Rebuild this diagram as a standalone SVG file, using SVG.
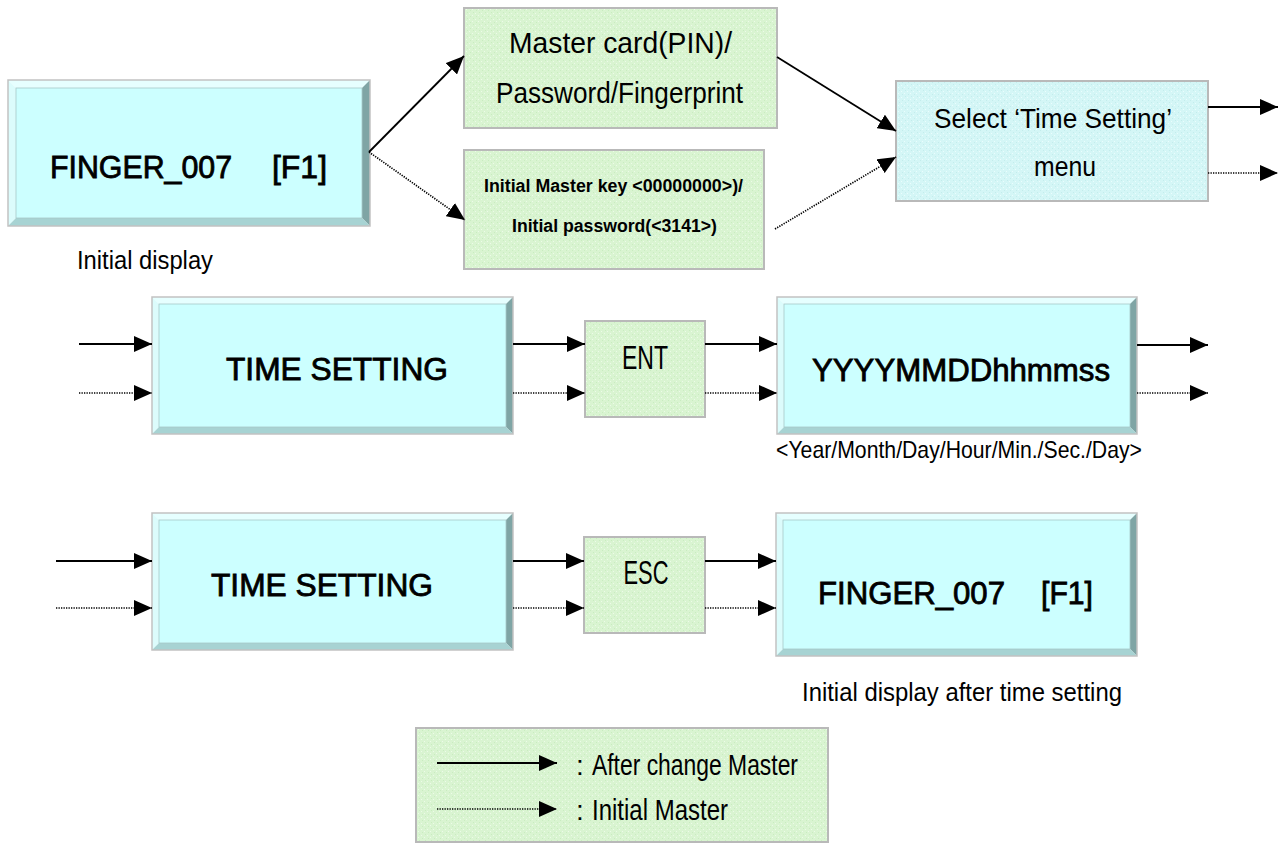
<svg xmlns="http://www.w3.org/2000/svg" width="1280" height="848" viewBox="0 0 1280 848">
<style>
.bv-o{fill:none;stroke:#c2c2c2;stroke-width:1.5}
.bv-t{fill:#e6ffff}
.bv-l{fill:#dcfcfc}
.bv-r{fill:#7fa5a5}
.bv-b{fill:#a7d3d3}
.bv-f{fill:#ccffff;stroke:#a8c8c8;stroke-width:0.8}
.gbox{fill:url(#gtex);stroke:#b9b9b9;stroke-width:2}
.cbox{fill:url(#ctex);stroke:#b9b9b9;stroke-width:2}
.big{font-family:"Liberation Sans",Arial,sans-serif;font-size:31px;fill:#000;stroke:#000;stroke-width:0.8}
.nar{font-family:"Liberation Sans Narrow","Liberation Sans",Arial,sans-serif;fill:#000}
.solid{stroke:#000;stroke-width:1.8;fill:none}
.dot{stroke:#000;stroke-width:1.7;stroke-dasharray:1.3 1.2;fill:none}
</style>
<defs>
<pattern id="gtex" width="6" height="6" patternUnits="userSpaceOnUse">
<rect width="6" height="6" fill="#d9f4d1"/>
<rect x="1" y="1" width="1" height="1" fill="#ecfbe8"/>
<rect x="4" y="3" width="1" height="1" fill="#ecfbe8"/>
<rect x="2" y="4" width="1" height="1" fill="#c9ecc0"/>
<rect x="5" y="0" width="1" height="1" fill="#c9ecc0"/>
</pattern>
<pattern id="ctex" width="6" height="6" patternUnits="userSpaceOnUse">
<rect width="6" height="6" fill="#d4f6f6"/>
<rect x="1" y="1" width="1" height="1" fill="#eafdfd"/>
<rect x="4" y="3" width="1" height="1" fill="#eafdfd"/>
<rect x="2" y="4" width="1" height="1" fill="#c3ecec"/>
<rect x="5" y="0" width="1" height="1" fill="#c3ecec"/>
</pattern>
<marker id="ah" markerUnits="userSpaceOnUse" viewBox="0 0 18 16" markerWidth="18" markerHeight="16" refX="18" refY="8" orient="auto">
<path d="M0,0 L18,8 L0,16 z" fill="#000"/>
</marker>
</defs>
<rect width="1280" height="848" fill="#fff"/>

<g id="node-initial">
<polygon class="bv-t" points="8,80 370,80 362,88 16,88"/>
<polygon class="bv-l" points="8,80 16,88 16,218 8,226"/>
<polygon class="bv-r" points="370,80 370,226 362,218 362,88"/>
<polygon class="bv-b" points="8,226 370,226 362,218 16,218"/>
<rect class="bv-f" x="16" y="88" width="346" height="130"/>
<rect class="bv-o" x="8" y="80" width="362" height="146"/>
<text class="big" y="178"><tspan x="50" textLength="182" lengthAdjust="spacingAndGlyphs">FINGER_007</tspan><tspan x="272" textLength="55" lengthAdjust="spacingAndGlyphs">[F1]</tspan></text>
<text class="nar" x="77" y="269" font-size="25" textLength="136" lengthAdjust="spacingAndGlyphs">Initial display</text>
</g>

<g id="node-master">
<rect class="gbox" x="464" y="8" width="313" height="120"/>
<text class="nar" x="509" y="53" font-size="29" textLength="223" lengthAdjust="spacingAndGlyphs">Master card(PIN)/</text>
<text class="nar" x="496" y="103" font-size="29" textLength="247" lengthAdjust="spacingAndGlyphs">Password/Fingerprint</text>
</g>

<g id="node-initial-master">
<rect class="gbox" x="464" y="150" width="300" height="119"/>
<text class="nar" x="484" y="192" font-size="18" font-weight="bold" textLength="259" lengthAdjust="spacingAndGlyphs">Initial Master key &lt;00000000&gt;)/</text>
<text class="nar" x="512" y="232" font-size="18" font-weight="bold" textLength="205" lengthAdjust="spacingAndGlyphs">Initial password(&lt;3141&gt;)</text>
</g>

<g id="node-select">
<rect class="cbox" x="896" y="81" width="312" height="120"/>
<text class="nar" x="934" y="128" font-size="28" textLength="238" lengthAdjust="spacingAndGlyphs">Select ‘Time Setting’</text>
<text class="nar" x="1065" y="176" font-size="28" text-anchor="middle" textLength="62" lengthAdjust="spacingAndGlyphs">menu</text>
</g>

<g id="node-time-setting-1">
<polygon class="bv-t" points="152,297 513,297 506,304 159,304"/>
<polygon class="bv-l" points="152,297 159,304 159,427 152,434"/>
<polygon class="bv-r" points="513,297 513,434 506,427 506,304"/>
<polygon class="bv-b" points="152,434 513,434 506,427 159,427"/>
<rect class="bv-f" x="159" y="304" width="347" height="123"/>
<rect class="bv-o" x="152" y="297" width="361" height="137"/>
<text class="big" x="226" y="380" textLength="222" lengthAdjust="spacingAndGlyphs">TIME SETTING</text>
</g>

<g id="node-ent">
<rect class="gbox" x="585" y="321" width="120" height="96"/>
<text class="nar" x="645" y="369" font-size="33" text-anchor="middle" textLength="46" lengthAdjust="spacingAndGlyphs">ENT</text>
</g>

<g id="node-datetime">
<polygon class="bv-t" points="777,297 1137,297 1130,304 784,304"/>
<polygon class="bv-l" points="777,297 784,304 784,427 777,434"/>
<polygon class="bv-r" points="1137,297 1137,434 1130,427 1130,304"/>
<polygon class="bv-b" points="777,434 1137,434 1130,427 784,427"/>
<rect class="bv-f" x="784" y="304" width="346" height="123"/>
<rect class="bv-o" x="777" y="297" width="360" height="137"/>
<text class="big" x="812" y="381" textLength="298" lengthAdjust="spacingAndGlyphs">YYYYMMDDhhmmss</text>
<text class="nar" x="776" y="458" font-size="24" textLength="366" lengthAdjust="spacingAndGlyphs">&lt;Year/Month/Day/Hour/Min./Sec./Day&gt;</text>
</g>

<g id="node-time-setting-2">
<polygon class="bv-t" points="152,513 513,513 506,520 159,520"/>
<polygon class="bv-l" points="152,513 159,520 159,643 152,650"/>
<polygon class="bv-r" points="513,513 513,650 506,643 506,520"/>
<polygon class="bv-b" points="152,650 513,650 506,643 159,643"/>
<rect class="bv-f" x="159" y="520" width="347" height="123"/>
<rect class="bv-o" x="152" y="513" width="361" height="137"/>
<text class="big" x="211" y="596" textLength="222" lengthAdjust="spacingAndGlyphs">TIME SETTING</text>
</g>

<g id="node-esc">
<rect class="gbox" x="584" y="537" width="121" height="96"/>
<text class="nar" x="646" y="584" font-size="33" text-anchor="middle" textLength="45" lengthAdjust="spacingAndGlyphs">ESC</text>
</g>

<g id="node-final">
<polygon class="bv-t" points="776,513 1137,513 1130,520 783,520"/>
<polygon class="bv-l" points="776,513 783,520 783,649 776,656"/>
<polygon class="bv-r" points="1137,513 1137,656 1130,649 1130,520"/>
<polygon class="bv-b" points="776,656 1137,656 1130,649 783,649"/>
<rect class="bv-f" x="783" y="520" width="347" height="129"/>
<rect class="bv-o" x="776" y="513" width="361" height="143"/>
<text class="big" y="604"><tspan x="818" textLength="187" lengthAdjust="spacingAndGlyphs">FINGER_007</tspan><tspan x="1041" textLength="52" lengthAdjust="spacingAndGlyphs">[F1]</tspan></text>
<text class="nar" x="802" y="701" font-size="25" textLength="320" lengthAdjust="spacingAndGlyphs">Initial display after time setting</text>
</g>

<g id="legend">
<rect class="gbox" x="416" y="728" width="412" height="114"/>
<line class="solid" x1="437" y1="763" x2="557" y2="763" marker-end="url(#ah)"/>
<line class="dot" x1="437" y1="809" x2="557" y2="809" marker-end="url(#ah)"/>
<text class="nar" x="576" y="775" font-size="28">:</text>
<text class="nar" x="592" y="775" font-size="29" textLength="206" lengthAdjust="spacingAndGlyphs">After change Master</text>
<text class="nar" x="576" y="820" font-size="28">:</text>
<text class="nar" x="592" y="820" font-size="29" textLength="136" lengthAdjust="spacingAndGlyphs">Initial Master</text>
</g>

<g id="connectors">
<line class="solid" x1="369" y1="152" x2="464" y2="56" marker-end="url(#ah)"/>
<line class="dot" x1="369" y1="152" x2="465" y2="220" marker-end="url(#ah)"/>
<line class="solid" x1="777" y1="57" x2="896" y2="131" marker-end="url(#ah)"/>
<line class="dot" x1="775" y1="229" x2="896" y2="157" marker-end="url(#ah)"/>
<line class="solid" x1="1208" y1="107" x2="1278" y2="107" marker-end="url(#ah)"/>
<line class="dot" x1="1208" y1="173" x2="1278" y2="173" marker-end="url(#ah)"/>

<line class="solid" x1="79" y1="344" x2="152" y2="344" marker-end="url(#ah)"/>
<line class="dot" x1="79" y1="393" x2="152" y2="393" marker-end="url(#ah)"/>
<line class="solid" x1="513" y1="344" x2="585" y2="344" marker-end="url(#ah)"/>
<line class="dot" x1="513" y1="393" x2="585" y2="393" marker-end="url(#ah)"/>
<line class="solid" x1="705" y1="344" x2="777" y2="344" marker-end="url(#ah)"/>
<line class="dot" x1="705" y1="393" x2="777" y2="393" marker-end="url(#ah)"/>
<line class="solid" x1="1137" y1="345" x2="1208" y2="345" marker-end="url(#ah)"/>
<line class="dot" x1="1137" y1="393" x2="1208" y2="393" marker-end="url(#ah)"/>

<line class="solid" x1="56" y1="561" x2="152" y2="561" marker-end="url(#ah)"/>
<line class="dot" x1="56" y1="608" x2="152" y2="608" marker-end="url(#ah)"/>
<line class="solid" x1="513" y1="561" x2="584" y2="561" marker-end="url(#ah)"/>
<line class="dot" x1="513" y1="608" x2="584" y2="608" marker-end="url(#ah)"/>
<line class="solid" x1="705" y1="561" x2="776" y2="561" marker-end="url(#ah)"/>
<line class="dot" x1="705" y1="608" x2="776" y2="608" marker-end="url(#ah)"/>
</g>
</svg>
